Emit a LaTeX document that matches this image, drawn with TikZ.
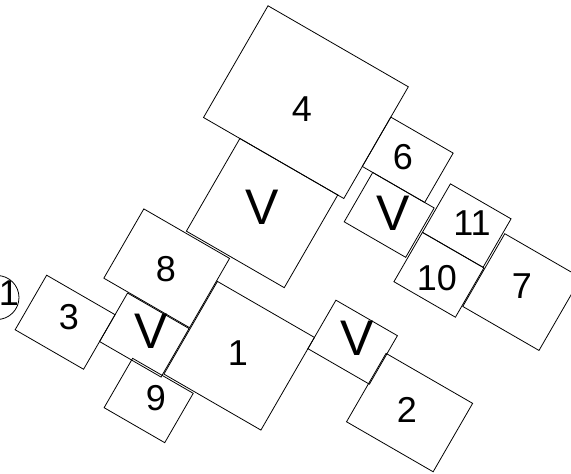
\documentclass[tikz,border=0pt]{standalone}
\usepackage{fontspec}
\setmainfont{Liberation Sans}

\begin{document}
\begin{tikzpicture}[x=1pt, y=-1pt,
  room/.style={draw, rotate=-30, inner sep=0pt, line width=0.8pt},
  num/.style={font=\fontsize{36}{36}\selectfont, inner sep=0pt},
  vee/.style={font=\fontsize{50}{50}\selectfont, inner sep=0pt}
]
\clip (0,0) rectangle (571,474);

% Boxes, laid out in a frame turned by 30 degrees
\begin{scope}[rotate=-30]
\node[room, minimum width=162pt, minimum height=129pt] at (316,-64.5) (r4)  {};
\node[room, minimum width=113pt, minimum height=107pt] at (333.5,53.5) (v1) {};
\node[room, minimum width=99pt,  minimum height=80pt]  at (278.5,149) (r8)  {};
\node[room, minimum width=71pt,  minimum height=56pt]  at (292.5,218) (v3)  {};
\node[room, minimum width=79pt,  minimum height=63pt]  at (217.5,246.5) (r3) {};
\node[room, minimum width=70pt,  minimum height=57pt]  at (329,272.5) (r9)  {};
\node[room, minimum width=112pt, minimum height=107pt] at (385,188.5) (r1) {};
\node[room, minimum width=71pt,  minimum height=56pt]  at (476.5,120) (v2)  {};
\node[room, minimum width=100pt, minimum height=79pt]  at (561,152.5) (r2)  {};
\node[room, minimum width=72pt,  minimum height=57pt]  at (433,-65.5) (r6)  {};
\node[room, minimum width=71pt,  minimum height=57pt]  at (444.5,-8.5) (v4) {};
\node[room, minimum width=70pt,  minimum height=56pt]  at (517,-38) (r11)   {};
\node[room, minimum width=71pt,  minimum height=57pt]  at (517.5,18.5) (r10) {};
\node[room, minimum width=88pt,  minimum height=84pt]  at (598,-8) (r7)     {};
\end{scope}

% Circle at the left edge
\node[draw, circle, minimum size=44pt, inner sep=0pt, line width=0.8pt] at (-3,297.5) (c1) {};

% Labels
\node[num] at (302,109) (l4)  {4};
\node[vee] at (262,207) (lv1) {V};
\node[num] at (166,269) (l8)  {8};
\node[vee] at (151,331) (lv3) {V};
\node[num] at (69,317)  (l3)  {3};
\node[num] at (156,398) (l9)  {9};
\node[num] at (238,353) (l1)  {1};
\node[vee] at (357,338) (lv2) {V};
\node[num] at (407,410) (l2)  {2};
\node[num] at (403,157) (l6)  {6};
\node[vee] at (393,213) (lv4) {V};
\node[num] at (472,223) (l11) {11};
\node[num] at (437,278) (l10) {10};
\node[num] at (522,286) (l7)  {7};
\node[num] at (9,293)   (lc1) {1};

\end{tikzpicture}
\end{document}
